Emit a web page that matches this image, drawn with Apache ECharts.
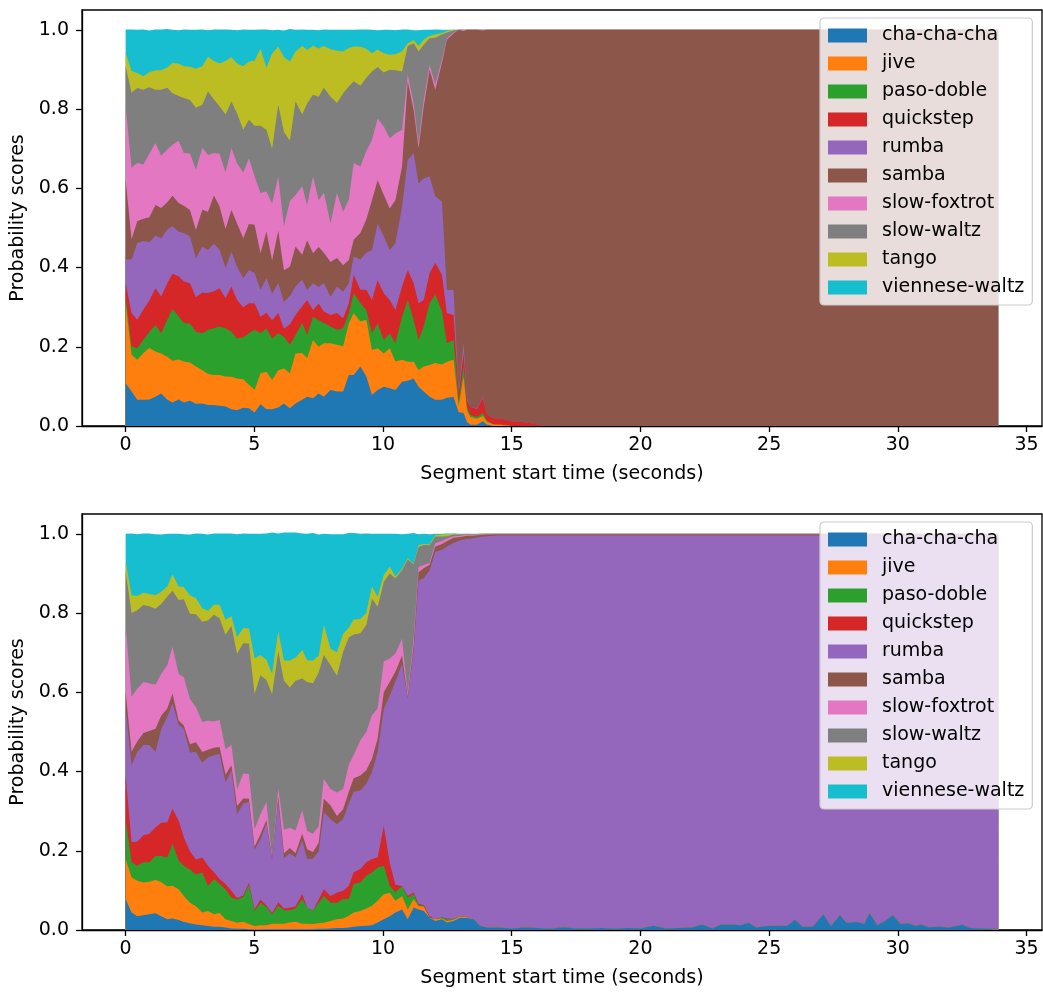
<!DOCTYPE html>
<html>
<head>
<meta charset="utf-8">
<script src="https://cdn.jsdelivr.net/npm/echarts@6/dist/echarts.min.js"></script>
<style>
  html, body { margin: 0; padding: 0; background: #ffffff; }
  #chart { width: 1043px; height: 992px; }
</style>
</head>
<body>
<div id="chart"></div>
<script>
// Dance classes, in stacking order (bottom to top)
const DANCES = ['cha-cha-cha', 'jive', 'paso-doble', 'quickstep', 'rumba', 'samba',
                'slow-foxtrot', 'slow-waltz', 'tango', 'viennese-waltz'];
const X_TICKS = [0, 5, 10, 15, 20, 25, 30, 35];
const Y_TICKS = [0, 0.2, 0.4, 0.6, 0.8, 1.0];

// ---------- Upper clip: segment start times (s) and per-class probabilities ----------
const topTime = [
  0, 0.23, 0.45, 0.69, 0.92, 1.16, 1.38, 1.62, 1.82, 2.06,
  2.26, 2.5, 2.73, 2.98, 3.2, 3.43, 3.65, 3.88, 4.11, 4.33,
  4.57, 4.79, 5.01, 5.24, 5.47, 5.69, 5.93, 6.15, 6.38, 6.6,
  6.86, 7.05, 7.28, 7.5, 7.7, 7.96, 8.21, 8.45, 8.67, 8.86,
  9.12, 9.35, 9.57, 9.79, 10.03, 10.26, 10.48, 10.74, 10.96, 11.19,
  11.38, 11.58, 11.81, 12.03, 12.29, 12.48, 12.74, 12.94, 13.13, 13.26,
  13.39, 13.65, 13.88, 14.04,
  14.3, 14.6, 15.0, 15.4, 15.8, 16.3, 17, 18, 19, 20,
  21, 22, 23, 24, 25, 26, 27, 28, 29, 30,
  31, 32, 33, 33.9
];
const topChaChaCha = [
  .108,.087,.066,.066,.067,.074,.082,.066,.059,.067,
  .059,.064,.056,.057,.053,.053,.051,.049,.042,.040,
  .046,.045,.034,.055,.042,.042,.047,.057,.045,.057,
  .066,.074,.070,.082,.074,.091,.087,.087,.129,.129,
  .150,.125,.078,.091,.099,.095,.091,.112,.114,.120,
  .099,.087,.074,.066,.066,.071,.073,.035,.033,.010,
  .003,.003,.012,.003,
  0,0,0,0,0,0,0,0,0,0,
  0,0,0,0,0,0,0,0,0,0,
  0,0,0,0
];
const topJive = [
  .202,.093,.101,.118,.130,.114,.101,.109,.106,.101,
  .104,.096,.094,.084,.078,.076,.078,.076,.082,.080,
  .072,.059,.057,.078,.095,.074,.094,.088,.088,.126,
  .118,.097,.147,.118,.135,.118,.118,.114,.130,.156,
  .114,.143,.114,.105,.084,.101,.072,.055,.048,.042,
  .042,.063,.080,.093,.089,.091,.094,.015,.091,.030,
  .020,.015,.013,.008,
  .004,.003,0,0,0,0,0,0,0,0,
  0,0,0,0,0,0,0,0,0,0,
  0,0,0,0
];
const topPasoDoble = [
  .017,.021,.029,.034,.040,.067,.051,.093,.130,.109,
  .097,.099,.088,.093,.111,.118,.122,.122,.114,.101,
  .106,.130,.152,.101,.109,.105,.093,.080,.072,.046,
  .076,.059,.059,.067,.051,.042,.038,.046,.025,.051,
  .046,.025,.042,.063,.034,.038,.046,.109,.156,.105,
  .076,.101,.156,.173,.134,.047,.050,.012,.026,.010,
  .005,.005,.008,.002,
  0,0,0,0,0,0,0,0,0,0,
  0,0,0,0,0,0,0,0,0,0,
  0,0,0,0
];
const topQuickstep = [
  .034,.084,.072,.076,.080,.093,.093,.093,.089,.101,
  .105,.101,.087,.103,.094,.093,.097,.076,.114,.097,
  .076,.076,.067,.042,.040,.046,.051,.021,.051,.051,
  .042,.088,.017,.042,.029,.029,.042,.025,.025,.046,
  .034,.051,.084,.109,.118,.084,.084,.076,.076,.093,
  .093,.067,.076,.080,.092,.076,.063,.020,.034,.015,
  .020,.020,.038,.015,
  .015,.015,.012,.010,.006,0,0,0,0,0,
  0,0,0,0,0,0,0,0,0,0,
  0,0,0,0
];
const topRumba = [
  .059,.135,.194,.173,.147,.132,.147,.135,.120,.112,
  .122,.118,.098,.116,.108,.120,.097,.076,.088,.084,
  .073,.084,.076,.067,.087,.067,.076,.067,.072,.072,
  .067,.025,.067,.042,.072,.046,.067,.067,.051,.046,
  .076,.093,.126,.143,.143,.126,.168,.202,.278,.328,
  .303,.307,.244,.168,.185,.058,.063,.005,.025,.005,
  0,.002,.003,0,
  0,0,0,0,0,0,0,0,0,0,
  0,0,0,0,0,0,0,0,0,0,
  0,0,0,0
];
const topSamba = [
  .202,.051,.055,.056,.063,.078,.076,.069,.077,.073,
  .069,.067,.072,.093,.097,.122,.109,.098,.105,.109,
  .101,.116,.122,.093,.118,.084,.132,.080,.074,.101,
  .063,.126,.076,.101,.076,.088,.072,.067,.059,.042,
  .067,.084,.126,.109,.105,.105,.109,.101,.198,.109,
  .088,.181,.269,.269,.351,.632,.648,.913,.788,.930,
  .952,.955,.924,.972,
  .981,.982,.988,.990,.994,1,1,1,1,1,
  1,1,1,1,1,1,1,1,1,1,
  1,1,1,1
];
const topSlowFoxtrot = [
  .185,.181,.147,.137,.160,.156,.132,.133,.129,.157,
  .133,.143,.152,.156,.143,.107,.133,.143,.156,.152,
  .166,.166,.122,.152,.101,.143,.137,.111,.166,.130,
  .173,.088,.194,.118,.152,.097,.164,.135,.152,.194,
  .168,.173,.152,.156,.173,.177,.168,.093,.017,.017,
  .013,.017,.013,.013,.008,.004,.002,0,.003,0,
  0,0,.002,0,
  0,0,0,0,0,0,0,0,0,0,
  0,0,0,0,0,0,0,0,0,0,
  0,0,0,0
];
const topSlowWaltz = [
  .101,.189,.189,.189,.168,.135,.167,.156,.130,.113,
  .139,.135,.156,.109,.160,.135,.120,.146,.118,.126,
  .108,.097,.128,.170,.156,.139,.181,.238,.152,.236,
  .181,.257,.206,.261,.265,.320,.227,.299,.286,.206,
  .204,.185,.173,.130,.136,.173,.160,.147,.072,.152,
  .231,.139,.067,.118,.063,.014,.005,0,0,0,
  0,0,0,0,
  0,0,0,0,0,0,0,0,0,0,
  0,0,0,0,0,0,0,0,0,0,
  0,0,0,0
];
const topTango = [
  .034,.055,.038,.034,.038,.049,.049,.051,.076,.082,
  .080,.084,.099,.097,.088,.097,.108,.135,.112,.126,
  .160,.147,.164,.194,.156,.240,.147,.189,.200,.126,
  .173,.135,.124,.122,.105,.120,.132,.105,.097,.088,
  .098,.073,.046,.044,.049,.038,.040,.051,.007,.008,
  .014,.013,.006,.008,.004,.004,.002,0,0,0,
  0,0,0,0,
  0,0,0,0,0,0,0,0,0,0,
  0,0,0,0,0,0,0,0,0,0,
  0,0,0,0
];
const topVienneseWaltz = [
  .059,.105,.109,.118,.105,.103,.103,.097,.084,.084,
  .093,.093,.098,.093,.067,.080,.086,.080,.069,.084,
  .093,.080,.078,.049,.097,.059,.042,.067,.082,.055,
  .042,.051,.040,.046,.042,.049,.053,.055,.046,.042,
  .044,.049,.059,.049,.059,.063,.061,.055,.035,.025,
  .040,.025,.015,.013,.008,.003,0,0,0,0,
  0,0,0,0,
  0,0,0,0,0,0,0,0,0,0,
  0,0,0,0,0,0,0,0,0,0,
  0,0,0,0
];

// ---------- Lower clip ----------
const bottomTime = [
  0, 0.23, 0.45, 0.69, 0.92, 1.16, 1.38, 1.62, 1.82, 2.06,
  2.26, 2.5, 2.73, 2.98, 3.2, 3.43, 3.65, 3.88, 4.11, 4.33,
  4.57, 4.79, 5.01, 5.24, 5.47, 5.69, 5.93, 6.15, 6.38, 6.6,
  6.86, 7.05, 7.28, 7.5, 7.7, 7.96, 8.21, 8.45, 8.67, 8.86,
  9.12, 9.35, 9.57, 9.79, 10.03, 10.26, 10.48, 10.74, 10.96, 11.19,
  11.38, 11.58, 11.81, 12.03, 12.29, 12.48, 12.74, 13.0, 13.26, 13.52,
  13.78, 14.04,
  14.5, 15.0, 15.5, 16.0, 16.5, 17.0, 17.5, 18.0, 18.5, 19.0,
  19.5, 20.0, 20.5, 21.0, 21.5, 22.0, 22.4, 22.8, 23.1, 23.5,
  23.9, 24.2, 24.5, 24.9, 25.3, 25.7, 26.0, 26.3, 26.7, 27.1,
  27.4, 27.75, 28.0, 28.4, 28.7, 28.9, 29.2, 29.5, 29.8, 30.1,
  30.4, 30.7, 30.9, 31.2, 31.6, 32.0, 32.5, 32.8, 33.2, 33.6,
  33.9
];
const bottomChaChaCha = [
  .078,.044,.035,.037,.040,.042,.035,.027,.029,.025,
  .020,.017,.014,.012,.010,.008,.008,.006,.004,.003,
  .003,.002,.001,.001,.002,.002,.002,.002,.002,.002,
  .002,.002,.002,.003,.003,.004,.005,.005,.006,.008,
  .010,.011,.012,.019,.027,.035,.044,.052,.027,.057,
  .052,.048,.031,.023,.027,.019,.023,.031,.030,.027,
  .010,.006,
  .006,.004,.006,.005,.003,.007,.004,.004,.005,.003,
  .005,.004,.011,.004,.005,.006,.014,.004,.013,.014,
  .012,.018,.006,.010,.011,.010,.026,.008,.008,.040,
  .010,.037,.018,.020,.015,.042,.012,.023,.038,.015,
  .017,.010,.014,.007,.008,.006,.013,.005,.004,.003,
  .003
];
const bottomJive = [
  .101,.089,.089,.083,.082,.084,.086,.083,.083,.078,
  .066,.052,.046,.032,.038,.032,.035,.021,.019,.015,
  .018,.013,.009,.011,.010,.014,.014,.014,.017,.019,
  .014,.014,.013,.014,.015,.019,.022,.024,.030,.036,
  .038,.043,.049,.055,.063,.059,.030,.034,.025,.021,
  .008,.011,0,.004,.002,.004,.003,.003,.002,0,
  0,0,
  0,0,0,0,0,0,0,0,0,0,
  0,0,0,0,0,0,0,0,0,0,
  0,0,0,0,0,0,0,0,0,0,
  0,0,0,0,0,0,0,0,0,0,
  0,0,0,0,0,0,0,0,0,0,
  0
];
const bottomPasoDoble = [
  .101,.038,.038,.051,.049,.061,.066,.073,.105,.072,
  .076,.084,.080,.101,.063,.089,.073,.076,.059,.059,
  .062,.099,.038,.057,.046,.023,.046,.034,.031,.034,
  .062,.041,.034,.052,.068,.046,.042,.049,.042,.072,
  .072,.083,.084,.084,.072,.017,.021,.025,.030,.013,
  .003,.002,0,0,.003,.004,.002,0,0,0,
  0,0,
  0,0,0,0,0,0,0,0,0,0,
  0,0,0,0,0,0,0,0,0,0,
  0,0,0,0,0,0,0,0,0,0,
  0,0,0,0,0,0,0,0,0,0,
  0,0,0,0,0,0,0,0,0,0,
  0
];
const bottomQuickstep = [
  .110,.051,.061,.068,.072,.072,.084,.089,.089,.101,
  .072,.046,.038,.038,.051,.017,.013,.013,.017,.004,
  .004,.005,.004,.008,.004,.003,.008,.004,.006,.004,
  .013,0,0,.008,.017,.017,.025,.021,.034,.030,
  .034,.034,.034,.025,.101,.059,.019,0,.004,.004,
  .003,.002,.004,0,0,.002,0,0,0,0,
  0,0,
  0,0,0,0,0,0,0,0,0,0,
  0,0,0,0,0,0,0,0,0,0,
  0,0,0,0,0,0,0,0,0,0,
  0,0,0,0,0,0,0,0,0,0,
  0,0,0,0,0,0,0,0,0,0,
  0
];
const bottomRumba = [
  .169,.194,.226,.228,.224,.190,.236,.266,.266,.242,
  .274,.249,.272,.239,.274,.295,.316,.256,.304,.211,
  .232,.204,.150,.152,.207,.135,.253,.127,.138,.124,
  .135,.122,.131,.122,.194,.194,.173,.181,.207,.203,
  .198,.198,.219,.266,.295,.422,.513,.561,.498,.612,
  .816,.825,.873,.928,.928,.939,.949,.950,.955,.962,
  .982,.988,
  .990,.992,.990,.991,.993,.989,.992,.992,.991,.993,
  .991,.992,.985,.992,.991,.990,.982,.992,.983,.982,
  .984,.978,.990,.986,.985,.986,.970,.988,.988,.956,
  .986,.959,.978,.976,.981,.954,.984,.973,.958,.981,
  .979,.986,.982,.989,.988,.990,.983,.991,.992,.993,
  .993
];
const bottomSamba = [
  .042,.034,.027,.030,.035,.059,.034,.021,.025,.011,
  .008,.021,.024,.027,.019,.019,.017,.020,.013,.021,
  .013,.008,.008,.013,.008,.004,.013,.013,.013,.011,
  .017,.025,.017,.021,.034,.034,.021,.025,.030,.034,
  .038,.034,.034,.034,.042,.034,.025,.021,.004,.013,
  .021,.025,.014,.013,.014,.013,.013,.008,.008,.006,
  .005,.004,
  .003,.003,.003,.003,.003,.003,.003,.003,.003,.003,
  .003,.003,.003,.003,.003,.003,.003,.003,.003,.003,
  .003,.003,.003,.003,.003,.003,.003,.003,.003,.003,
  .003,.003,.003,.003,.003,.003,.003,.003,.003,.003,
  .003,.003,.003,.003,.003,.003,.003,.003,.003,.003,
  .003
];
const bottomSlowFoxtrot = [
  .169,.139,.133,.129,.121,.111,.105,.110,.118,.118,
  .122,.114,.089,.076,.073,.066,.068,.064,.051,.042,
  .063,.063,.044,.051,.046,0,.021,.059,.051,.057,
  .059,.046,.046,.042,.051,.042,.059,.051,.068,.059,
  .089,.097,.110,.076,.078,.059,.046,.042,.008,.017,
  .013,.008,.005,.008,.008,.007,.004,.003,.003,.002,
  .002,.002,
  .001,.001,.001,.001,.001,.001,.001,.001,.001,.001,
  .001,.001,.001,.001,.001,.001,.001,.001,.001,.001,
  .001,.001,.001,.001,.001,.001,.001,.001,.001,.001,
  .001,.001,.001,.001,.001,.001,.001,.001,.001,.001,
  .001,.001,.001,.001,.001,.001,.001,.001,.001,.001,
  .001
];
const bottomSlowWaltz = [
  .135,.211,.198,.194,.194,.192,.177,.173,.141,.186,
  .197,.215,.234,.253,.253,.270,.257,.289,.300,.342,
  .329,.329,.342,.350,.308,.414,.346,.376,.354,.378,
  .333,.376,.380,.388,.312,.312,.295,.346,.321,.304,
  .270,.270,.295,.257,.201,.215,.190,.173,.339,.186,
  .051,.051,.044,.017,.011,.006,.004,.003,.001,.001,
  .001,0,
  0,0,0,0,0,0,0,0,0,0,
  0,0,0,0,0,0,0,0,0,0,
  0,0,0,0,0,0,0,0,0,0,
  0,0,0,0,0,0,0,0,0,0,
  0,0,0,0,0,0,0,0,0,0,
  0
];
const bottomTango = [
  .025,.045,.036,.031,.031,.034,.031,.025,.042,.034,
  .031,.046,.041,.034,.025,.025,.034,.038,.025,.042,
  .038,.038,.089,.051,.051,.051,.051,.051,.068,.059,
  .072,.055,.057,.042,.076,.042,.059,.046,.025,.038,
  .036,.030,.030,.025,.017,.017,.004,.004,.003,.002,
  .004,.002,.002,.004,.005,.005,.002,.001,.001,.001,
  0,0,
  0,0,0,0,0,0,0,0,0,0,
  0,0,0,0,0,0,0,0,0,0,
  0,0,0,0,0,0,0,0,0,0,
  0,0,0,0,0,0,0,0,0,0,
  0,0,0,0,0,0,0,0,0,0,
  0
];
const bottomVienneseWaltz = [
  .070,.156,.156,.150,.153,.154,.144,.133,.102,.133,
  .133,.154,.163,.188,.192,.180,.180,.218,.209,.260,
  .239,.239,.315,.306,.319,.357,.247,.323,.323,.315,
  .294,.319,.322,.306,.230,.289,.298,.251,.239,.218,
  .215,.201,.133,.159,.104,.083,.108,.087,.062,.077,
  .028,.026,.026,.003,.002,.002,.001,.001,0,.001,
  0,0,
  0,0,0,0,0,0,0,0,0,0,
  0,0,0,0,0,0,0,0,0,0,
  0,0,0,0,0,0,0,0,0,0,
  0,0,0,0,0,0,0,0,0,0,
  0,0,0,0,0,0,0,0,0,0,
  0
];

// ---------- Styling ----------
const COLORS = ['#1f77b4', '#ff7f0e', '#2ca02c', '#d62728', '#9467bd',
                '#8c564b', '#e377c2', '#7f7f7f', '#bcbd22', '#17becf'];
const FONT = 'DejaVu Sans';
const FONT_SIZE = 19;

const topValues = [topChaChaCha, topJive, topPasoDoble, topQuickstep, topRumba,
                   topSamba, topSlowFoxtrot, topSlowWaltz, topTango, topVienneseWaltz];
const bottomValues = [bottomChaChaCha, bottomJive, bottomPasoDoble, bottomQuickstep, bottomRumba,
                      bottomSamba, bottomSlowFoxtrot, bottomSlowWaltz, bottomTango, bottomVienneseWaltz];

// Stacked areas: each class is drawn as the running total of the classes below it,
// filled down to zero; upper bands are painted first so lower bands cover them.
function stackedSeries(time, values, panel) {
  let running = time.map(() => 0);
  const tops = values.map(vals => {
    running = running.map((r, i) => r + vals[i]);
    return running.slice();
  });
  const out = [];
  for (let k = DANCES.length - 1; k >= 0; k--) {
    out.push({
      name: DANCES[k],
      type: 'line',
      xAxisIndex: panel,
      yAxisIndex: panel,
      data: time.map((t, i) => [t, tops[k][i]]),
      symbol: 'none',
      showSymbol: false,
      silent: true,
      color: COLORS[k],
      itemStyle: { color: COLORS[k] },
      lineStyle: { width: 0, color: COLORS[k] },
      areaStyle: { color: COLORS[k], opacity: 1 },
      z: 2
    });
  }
  return out;
}

const GRID_LEFT = 82, GRID_WIDTH = 960, GRID_HEIGHT = 416;
const PANEL_TOPS = [10, 514];

function xAxis(panel) {
  return {
    gridIndex: panel,
    type: 'value',
    min: -1.695,
    max: 35.6,
    name: 'Segment start time (seconds)',
    nameLocation: 'middle',
    nameGap: 39,
    nameTextStyle: { fontFamily: FONT, fontSize: FONT_SIZE, color: '#000' },
    axisLine: { show: true, onZero: false, lineStyle: { color: '#000', width: 1.3 } },
    axisTick: { show: true, length: 6, customValues: X_TICKS, lineStyle: { color: '#000', width: 1.3 } },
    axisLabel: { customValues: X_TICKS, margin: 10, fontFamily: FONT, fontSize: FONT_SIZE, color: '#000' },
    splitLine: { show: false }
  };
}
function yAxis(panel) {
  return {
    gridIndex: panel,
    type: 'value',
    min: 0,
    max: 1.05,
    name: 'Probability scores',
    nameLocation: 'middle',
    nameGap: 49,
    nameTextStyle: { fontFamily: FONT, fontSize: FONT_SIZE, color: '#000' },
    axisLine: { show: true, onZero: false, lineStyle: { color: '#000', width: 1.3 } },
    axisTick: { show: true, length: 6, customValues: Y_TICKS, lineStyle: { color: '#000', width: 1.3 } },
    axisLabel: {
      customValues: Y_TICKS, margin: 13, fontFamily: FONT, fontSize: FONT_SIZE, color: '#000',
      formatter: v => v.toFixed(1)
    },
    splitLine: { show: false }
  };
}
function legend(panel) {
  return {
    data: DANCES,
    orient: 'vertical',
    left: 820,
    top: PANEL_TOPS[panel] + 8,
    icon: 'rect',
    itemWidth: 39,
    itemHeight: 14,
    itemGap: 9,
    padding: [8, 8, 8, 8],
    backgroundColor: 'rgba(255,255,255,0.8)',
    borderColor: '#cccccc',
    borderWidth: 1.2,
    borderRadius: 4,
    selectedMode: false,
    itemStyle: { borderWidth: 0 },
    lineStyle: { width: 0 },
    textStyle: {
      fontFamily: FONT, fontSize: FONT_SIZE, color: '#000',
      padding: [0, 0, 0, 10]
    },
    z: 10
  };
}

const chart = echarts.init(document.getElementById('chart'), null, { renderer: 'canvas' });
chart.setOption({
  animation: false,
  backgroundColor: '#ffffff',
  grid: PANEL_TOPS.map(top => ({
    left: GRID_LEFT, top: top, width: GRID_WIDTH, height: GRID_HEIGHT,
    show: true, borderColor: '#000', borderWidth: 1.3, backgroundColor: 'transparent',
    containLabel: false
  })),
  xAxis: [xAxis(0), xAxis(1)],
  yAxis: [yAxis(0), yAxis(1)],
  legend: [legend(0), legend(1)],
  series: stackedSeries(topTime, topValues, 0).concat(stackedSeries(bottomTime, bottomValues, 1))
});
</script>
</body>
</html>
